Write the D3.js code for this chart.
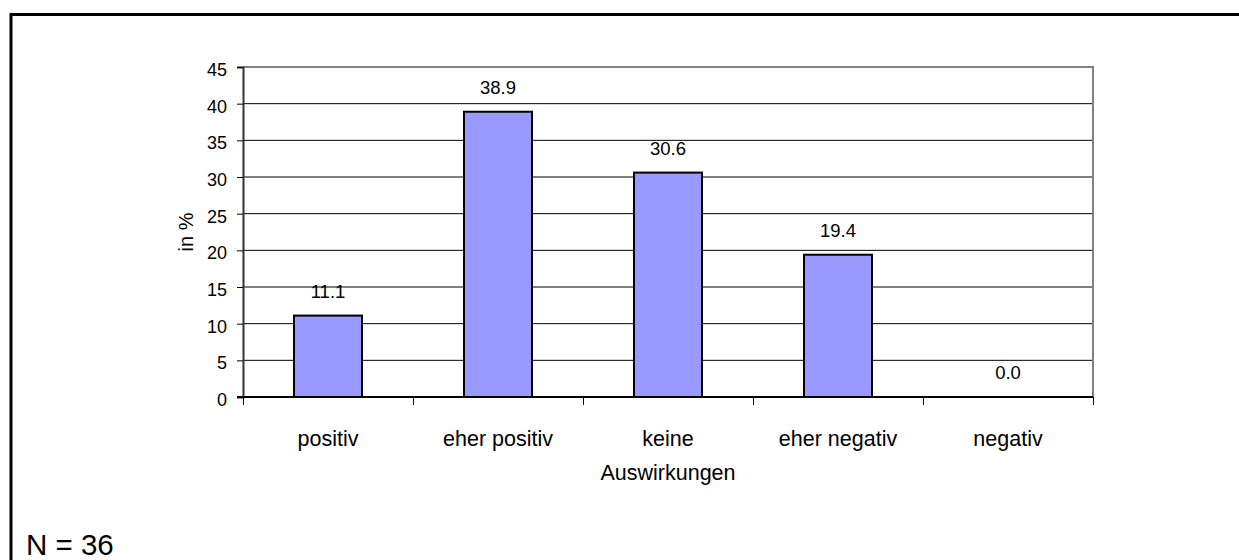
<!DOCTYPE html>
<html>
<head>
<meta charset="utf-8">
<script src="https://cdn.jsdelivr.net/npm/d3@7"></script>
<style>
  html, body { margin: 0; padding: 0; background: #fff; }
  svg { display: block; font-family: "Liberation Sans", Arial, sans-serif; }
</style>
</head>
<body>
<svg id="chart" width="1239" height="560"></svg>
<script>
// Auswirkungen (Anteile in %)
const categories = ["positiv", "eher positiv", "keine\nAuswirkungen", "eher negativ", "negativ"];
const values = [11.1, 38.9, 30.6, 19.4, 0.0];
const yTicks = [0, 5, 10, 15, 20, 25, 30, 35, 40, 45];
const yLabel = "in %";
const footnote = "N = 36";

const svg = d3.select("#chart");
const plot = { left: 243, right: 1093, top: 67, bottom: 397 };

// outer frame (runs off the right and bottom edges)
svg.append("rect")
  .attr("x", 11).attr("y", 14.5)
  .attr("width", 1300).attr("height", 600)
  .attr("fill", "none").attr("stroke", "#000").attr("stroke-width", 3);

const x = d3.scaleBand().domain(categories).range([plot.left, plot.right]).padding(0);
const xEdges = d3.scaleLinear().domain([0, categories.length]).range([plot.left, plot.right]);
const y = d3.scaleLinear().domain([0, 45]).range([plot.bottom, plot.top]);

// horizontal gridlines
svg.append("g").selectAll("line")
  .data(yTicks.filter(t => t > 0 && t < 45))
  .join("line")
  .attr("x1", plot.left).attr("x2", plot.right)
  .attr("y1", d => y(d)).attr("y2", d => y(d))
  .attr("stroke", "#000").attr("stroke-width", 1);

// plot frame: top and right edges in grey
svg.append("path")
  .attr("d", `M${plot.left},${y(45)}H${plot.right}V${plot.bottom}`)
  .attr("fill", "none").attr("stroke", "#808080").attr("stroke-width", 2);

// bars
const barW = x.bandwidth() * 0.4;
svg.append("g").selectAll("rect")
  .data(values)
  .join("rect")
  .attr("x", (d, i) => x(categories[i]) + (x.bandwidth() - barW) / 2)
  .attr("y", d => y(d))
  .attr("width", barW)
  .attr("height", d => y(0) - y(d))
  .attr("fill", "#9999FF")
  .attr("stroke", "#000").attr("stroke-width", 2);

// value labels
svg.append("g").selectAll("text")
  .data(values)
  .join("text")
  .attr("x", (d, i) => x(categories[i]) + x.bandwidth() / 2)
  .attr("y", d => y(d) - 18)
  .attr("text-anchor", "middle")
  .attr("font-size", 18.5)
  .attr("fill", "#000")
  .text(d => d.toFixed(1));

// y axis
const yAxis = svg.append("g")
  .attr("transform", `translate(${plot.left},0)`)
  .call(d3.axisLeft(y).tickValues(yTicks).tickSize(6).tickPadding(10).tickFormat(d3.format("d")));
yAxis.select(".domain").attr("stroke", "#333").attr("stroke-width", 2);
yAxis.selectAll(".tick line").attr("stroke", "#000").attr("stroke-width", 1);
yAxis.selectAll(".tick text")
  .attr("font-size", 18).attr("font-family", "Liberation Sans, Arial, sans-serif")
  .attr("fill", "#000").attr("dy", "0.48em");

// x axis with ticks at category boundaries
const xAxis = svg.append("g")
  .attr("transform", `translate(0,${plot.bottom})`)
  .call(d3.axisBottom(xEdges).ticks(categories.length).tickSize(8).tickFormat(""));
xAxis.select(".domain").attr("stroke", "#000").attr("stroke-width", 2)
  .attr("d", `M${plot.left - 6},0H${plot.right}`);
xAxis.selectAll(".tick line").attr("stroke", "#000").attr("stroke-width", 1);

// category labels
const catLabels = svg.append("g").selectAll("text")
  .data(categories)
  .join("text")
  .attr("x", d => x(d) + x.bandwidth() / 2)
  .attr("y", 446)
  .attr("text-anchor", "middle")
  .attr("font-size", 21.5)
  .attr("fill", "#000");
catLabels.selectAll("tspan")
  .data(d => d.split("\n").map(s => ({ s, cx: x(d) + x.bandwidth() / 2 })))
  .join("tspan")
  .attr("x", d => d.cx)
  .attr("dy", (d, i) => i === 0 ? 0 : 34)
  .text(d => d.s);

// y axis title
svg.append("text")
  .attr("transform", `translate(193,${(plot.top + plot.bottom) / 2}) rotate(-90)`)
  .attr("text-anchor", "middle")
  .attr("font-size", 20)
  .attr("fill", "#000")
  .text(yLabel);

// sample size
svg.append("text")
  .attr("x", 26).attr("y", 555)
  .attr("font-size", 29.5)
  .attr("fill", "#000")
  .text(footnote);
</script>
</body>
</html>
